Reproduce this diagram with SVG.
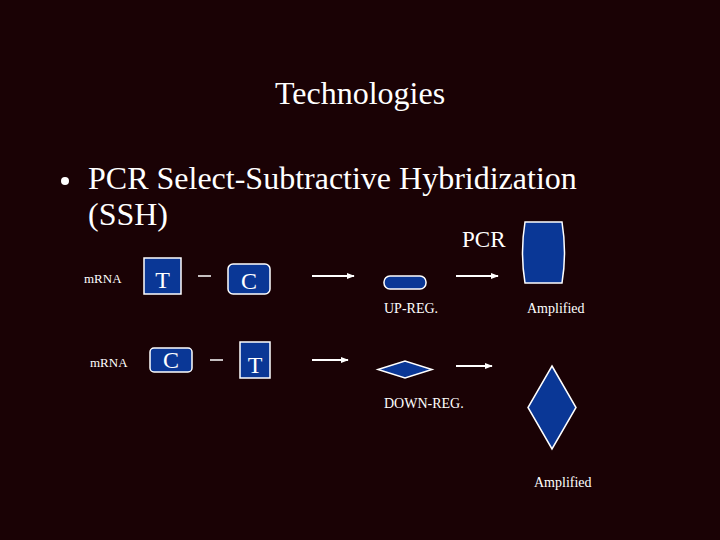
<svg xmlns="http://www.w3.org/2000/svg" width="720" height="540" viewBox="0 0 720 540">
<defs>
<style>
text{fill:#ffffff}
.shape{fill:#0a3796;stroke:#ffffff;stroke-width:1.5}
.line{stroke:#ffffff;stroke-width:1.5;fill:none}
.arrow{stroke:#ffffff;stroke-width:2;fill:none;marker-end:url(#ah)}
.sm{font-size:13px}
.lb{font-size:14px}
.box{font-size:24px;text-anchor:middle}
</style>
<marker id="ah" viewBox="0 0 10 10" refX="9" refY="5" markerWidth="4" markerHeight="4" orient="auto" markerUnits="strokeWidth">
<path d="M0,1 L10,5 L0,9 Z" fill="#ffffff"/>
</marker>
</defs>
<rect width="720" height="540" fill="#1a0205"/>
<g font-family="'Liberation Serif', 'DejaVu Serif', serif">
<text x="360" y="104" font-size="32" text-anchor="middle">Technologies</text>
<circle cx="65" cy="181" r="4" fill="#ffffff"/>
<text x="88" y="189" font-size="32">PCR Select-Subtractive Hybridization</text>
<text x="88" y="225" font-size="32">(SSH)</text>
<text x="462" y="247" font-size="23">PCR</text>

<g id="row1-mrna"><text class="sm" x="84" y="283">mRNA</text></g>
<g id="row1-T"><rect class="shape" x="144" y="258" width="37" height="36"/><text class="box" x="162.5" y="288">T</text></g>
<g id="row1-C"><rect class="shape" x="228" y="264" width="42" height="30" rx="5"/><text class="box" x="249" y="289">C</text></g>
<g id="upreg"><rect class="shape" x="384" y="276" width="42" height="13" rx="6"/><text class="lb" x="384" y="313">UP-REG.</text></g>
<g id="amp1"><path class="shape" d="M525,222 L562,222 Q567,252.5 562,283 L525,283 Q520,252.5 525,222 Z"/><text class="lb" x="527" y="313">Amplified</text></g>

<g id="row2-mrna"><text class="sm" x="90" y="367">mRNA</text></g>
<g id="row2-C"><rect class="shape" x="150" y="348" width="42" height="24" rx="4"/><text class="box" x="171" y="368">C</text></g>
<g id="row2-T"><rect class="shape" x="240" y="342" width="30" height="36"/><text class="box" x="255" y="373">T</text></g>
<g id="downreg"><polygon class="shape" points="378,369.5 405,361 432,369.5 405,378"/><text class="lb" x="384" y="408">DOWN-REG.</text></g>
<g id="amp2"><polygon class="shape" points="552,366 576,407.5 552,449 528,407.5"/><text class="lb" x="534" y="487">Amplified</text></g>
</g>

<g id="connectors">
<line class="line" x1="198" y1="276" x2="211" y2="276"/>
<line class="arrow" x1="312" y1="276" x2="354" y2="276"/>
<line class="arrow" x1="456" y1="276" x2="498" y2="276"/>
<line class="line" x1="210" y1="360" x2="223" y2="360"/>
<line class="arrow" x1="312" y1="360" x2="348" y2="360"/>
<line class="arrow" x1="456" y1="366" x2="492" y2="366"/>
</g>
</svg>
